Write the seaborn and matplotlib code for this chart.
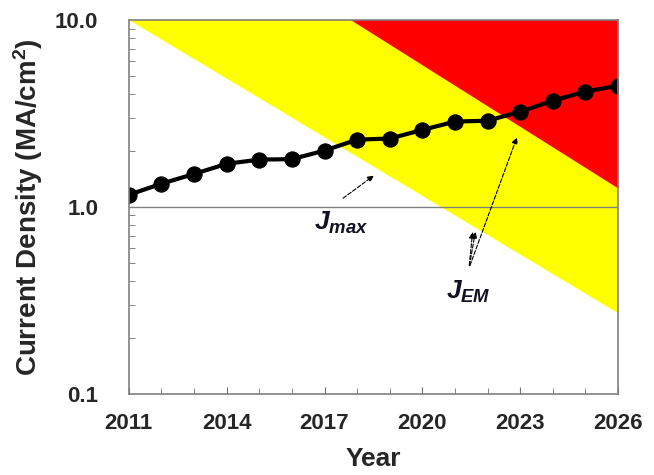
import numpy as np
import pandas as pd
import matplotlib
matplotlib.use('Agg')
import matplotlib.pyplot as plt
import seaborn as sns

# values
years = [2011, 2012, 2013, 2014, 2015, 2016, 2017, 2018, 2019, 2020,
         2021, 2022, 2023, 2024, 2025, 2026]
j_max = [1.16, 1.33, 1.50, 1.70, 1.79, 1.80, 2.00, 2.29, 2.32, 2.58,
         2.86, 2.89, 3.23, 3.70, 4.14, 4.45]

edge_years = [2011, 2026]
yellow_edge = [10.0, 0.27]
red_edge = [56.0, 1.26]

x_ticks = [2011, 2014, 2017, 2020, 2023, 2026]
y_ticks = [0.1, 1.0, 10.0]
y_tick_labels = ['0.1', '1.0', '10.0']

sns.set_style('ticks')
plt.rcParams['font.family'] = ['Liberation Sans', 'DejaVu Sans']
plt.rcParams['mathtext.fontset'] = 'custom'
plt.rcParams['mathtext.it'] = 'Liberation Sans:italic:bold'
plt.rcParams['mathtext.rm'] = 'Liberation Sans:bold'

fig = plt.figure(figsize=(6.54, 4.75), dpi=100)
ax = fig.add_axes([0.197, 0.171, 0.748, 0.787])

ax.set_yscale('log')
ax.fill_between(edge_years, yellow_edge, 100, color='#ffff00', lw=0, zorder=1)
ax.fill_between(edge_years, red_edge, 100, color='#ff0000', lw=0, zorder=2)
ax.axhline(1.0, color='#808080', lw=1.0, zorder=3)

df = pd.DataFrame({'Year': years, 'J': j_max})
sns.lineplot(data=df, x='Year', y='J', ax=ax, color='black', lw=3,
             marker='o', markersize=11, markeredgecolor='black', zorder=5)

ax.set_xlim(2011, 2026)
ax.set_ylim(0.1, 10)
ax.set_xticks(x_ticks)
ax.set_xticks(years, minor=True)
ax.set_xticklabels([str(t) for t in x_ticks], fontsize=16, fontweight='bold')
ax.set_yticks(y_ticks)
ax.set_yticklabels(y_tick_labels, fontsize=16, fontweight='bold')
ax.tick_params(axis='both', which='both', direction='in', color='#707070')
ax.tick_params(axis='both', which='major', length=5, pad=14)
ax.tick_params(axis='both', which='minor', length=4)
ax.tick_params(axis='y', which='major', length=0, pad=22)
for s in ax.spines.values():
    s.set_color('#808080')
    s.set_linewidth(1.2)
    s.set_zorder(6)

ax.set_xlabel('Year', fontsize=19, fontweight='bold', labelpad=9)
ax.set_ylabel('Current Density (MA/cm$^2$)', fontsize=20, fontweight='bold',
              labelpad=7)

ax.text(2017.5, 0.82, r'$J_{max}$', fontsize=19, ha='center', va='center',
        color='#111122', zorder=7,
        bbox=dict(facecolor='white', edgecolor='none', pad=1))
ax.annotate('', xy=(2018.58, 1.50), xytext=(2017.5, 1.09),
            arrowprops=dict(arrowstyle='-|>', color='black', lw=0.8,
                            ls='--', mutation_scale=9), zorder=7)

ax.text(2021.4, 0.35, r'$J_{EM}$', fontsize=19, ha='center', va='center',
        color='#111122', zorder=7)
for tx, ty in [(2021.55, 0.76), (2021.64, 0.76), (2022.93, 2.43)]:
    ax.annotate('', xy=(tx, ty), xytext=(2021.43, 0.47),
                arrowprops=dict(arrowstyle='-|>', color='black', lw=0.8,
                                ls='--', mutation_scale=9), zorder=7)

fig.savefig('out.png', dpi=100)
